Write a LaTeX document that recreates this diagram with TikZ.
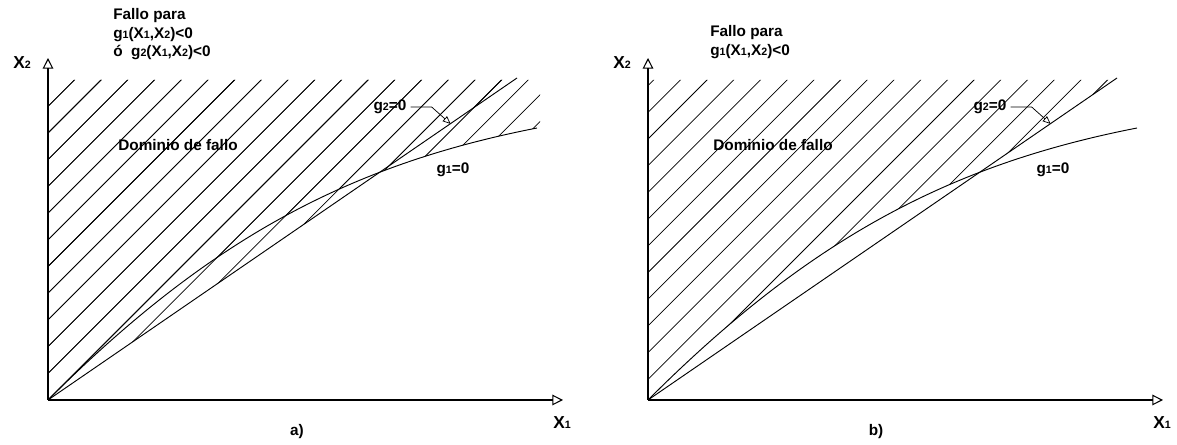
\documentclass[tikz,border=0pt]{standalone}
\usepackage{fontspec}
\setmainfont{Liberation Sans}
\usetikzlibrary{arrows.meta}
\newcommand{\ix}[1]{{\fontsize{8}{8}\selectfont #1}}
\begin{document}
\begin{tikzpicture}[x=0.75pt, y=0.75pt,
    axis/.style={line width=0.8pt, -{Triangle[open, length=8pt, width=8pt]}},
    curve/.style={line width=0.7pt},
    hatch/.style={line width=0.55pt},
    lead/.style={line width=0.55pt, -{Triangle[open, length=6pt, width=5pt]}},
    lbl/.style={font=\bfseries\fontsize{11.5}{14}\selectfont, inner sep=0pt},
    axlbl/.style={font=\bfseries\fontsize{13}{13}\selectfont, inner sep=0pt}]
  \useasboundingbox (0,0) rectangle (1177,445);

  % a) union: g1<0 or g2<0
  \begin{scope}[shift={(48,45)}]
    \coordinate (a-o) at (0,0);
    \coordinate (a-x1) at (515,0);
    \coordinate (a-x2) at (0,342);
    \begin{scope}
      \clip (0,0) .. controls (160,160) and (300,235) .. (489,272) -- (492,272) -- (492,320) -- (0,320) -- cycle;
      \foreach \k in {-12,...,19} \draw[hatch] ({26.7*\k-20},-20) -- ++(420,420);
    \end{scope}
    \begin{scope}
      \clip (0,0) -- (466,320) -- (0,320) -- cycle;
      \foreach \k in {-12,...,19} \draw[hatch] ({26.7*\k-20},-20) -- ++(420,420);
    \end{scope}
    \draw[curve] (a-o) .. controls (160,160) and (300,235) .. (489,272);
    \draw[curve] (a-o) -- (469,322);
    \draw[axis] (a-o) -- (a-x1);
    \draw[axis] (a-o) -- (a-x2);

    \node[axlbl] (a-lx1) at (514,-23) {X\ix{1}};
    \node[axlbl] (a-lx2) at (-26,337) {X\ix{2}};
    \node[lbl, align=left, anchor=north west] (a-head) at (65,392)
      {Fallo para\\g\ix{1}(X\ix{1},X\ix{2})<0\\ó\ \ g\ix{2}(X\ix{1},X\ix{2})<0};
    \node[lbl] (a-dom) at (130,255) {Dominio de fallo};
    \node[lbl] (a-g1) at (405,230) {g\ix{1}=0};
    \node[lbl] (a-g2) at (342,293) {g\ix{2}=0};
    \coordinate (a-g2tip) at (402.7,276);
    \draw[lead] ([xshift=3]a-g2.east) -- ++(21,0) -- (a-g2tip);
    \node[lbl] (a-cap) at (249,-32) {a)};
  \end{scope}

  % b) g1<0 only, hatched above both curves
  \begin{scope}[shift={(648,45)}]
    \coordinate (b-o) at (0,0);
    \coordinate (b-x1) at (515,0);
    \coordinate (b-x2) at (0,342);
    \begin{scope}
      \clip (0,0) .. controls (160,160) and (300,235) .. (489,272) -- (489,320) -- (0,320) -- cycle;
      \clip (0,0) -- (466,320) -- (0,320) -- cycle;
      \foreach \k in {-12,...,19} \draw[hatch] ({26.7*\k-14},-20) -- ++(420,420);
    \end{scope}
    \draw[curve] (b-o) .. controls (160,160) and (300,235) .. (489,272);
    \draw[curve] (b-o) -- (469,322);
    \draw[axis] (b-o) -- (b-x1);
    \draw[axis] (b-o) -- (b-x2);

    \node[axlbl] (b-lx1) at (514,-23) {X\ix{1}};
    \node[axlbl] (b-lx2) at (-26,337) {X\ix{2}};
    \node[lbl, align=left, anchor=north west] (b-head) at (62,375)
      {Fallo para\\g\ix{1}(X\ix{1},X\ix{2})<0};
    \node[lbl] (b-dom) at (125,255) {Dominio de fallo};
    \node[lbl] (b-g1) at (405,230) {g\ix{1}=0};
    \node[lbl] (b-g2) at (342,293) {g\ix{2}=0};
    \coordinate (b-g2tip) at (402.7,276);
    \draw[lead] ([xshift=3]b-g2.east) -- ++(21,0) -- (b-g2tip);
    \node[lbl] (b-cap) at (228,-32) {b)};
  \end{scope}
\end{tikzpicture}
\end{document}
